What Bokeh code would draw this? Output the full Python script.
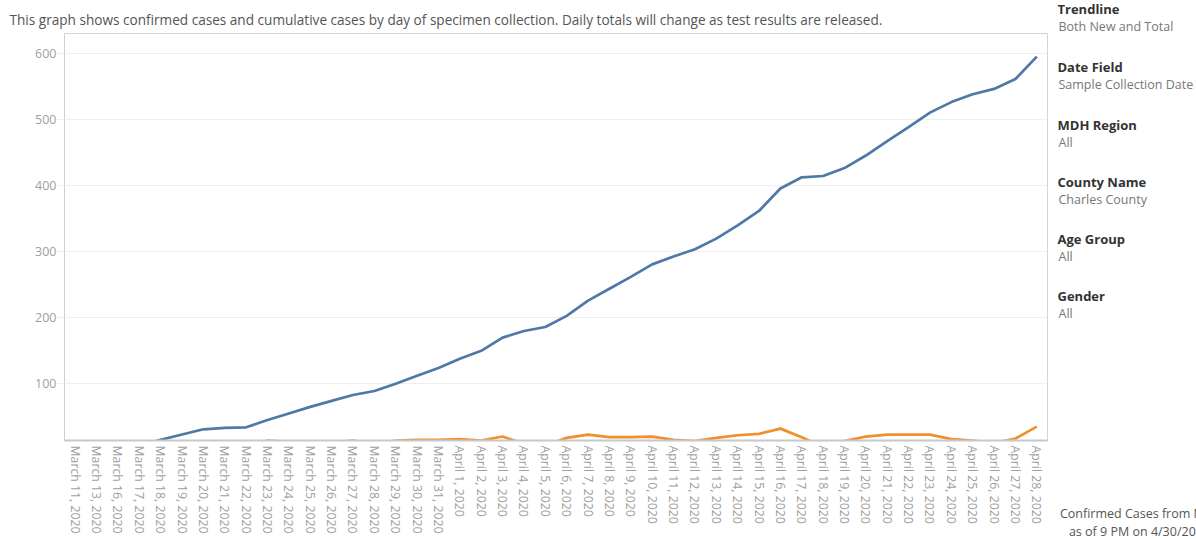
from bokeh.plotting import figure
from bokeh.layouts import row, column
from bokeh.models import FactorRange, Range1d
from bokeh.embed import file_html
from bokeh.resources import INLINE
from bokeh.core.properties import value

dates = [
    "March 11, 2020", "March 13, 2020", "March 16, 2020", "March 17, 2020",
    "March 18, 2020", "March 19, 2020", "March 20, 2020", "March 21, 2020",
    "March 22, 2020", "March 23, 2020", "March 24, 2020", "March 25, 2020",
    "March 26, 2020", "March 27, 2020", "March 28, 2020", "March 29, 2020",
    "March 30, 2020", "March 31, 2020",
    "April 1, 2020", "April 2, 2020", "April 3, 2020", "April 4, 2020",
    "April 5, 2020", "April 6, 2020", "April 7, 2020", "April 8, 2020",
    "April 9, 2020", "April 10, 2020", "April 11, 2020", "April 12, 2020",
    "April 13, 2020", "April 14, 2020", "April 15, 2020", "April 16, 2020",
    "April 17, 2020", "April 18, 2020", "April 19, 2020", "April 20, 2020",
    "April 21, 2020", "April 22, 2020", "April 23, 2020", "April 24, 2020",
    "April 25, 2020", "April 26, 2020", "April 27, 2020", "April 28, 2020",
]

total_cases = [
    1, 2, 3, 6, 15, 23, 31, 33, 34, 45, 55, 65, 74, 83, 89, 100, 112, 124,
    138, 150, 170, 180, 186, 203, 226, 244, 262, 281, 293, 304, 320, 340,
    362, 396, 413, 415, 427, 446, 468, 489, 511, 527, 539, 547, 562, 596,
]

new_cases = [
    1, 1, 1, 3, 9, 8, 12, 2, 1, 14, 12, 10, 11, 14, 8, 14, 15, 15,
    16, 14, 20, 9, 6, 18, 23, 19, 19, 20, 15, 13, 18, 22,
    24, 32, 19, 4, 13, 20, 23, 23, 23, 16, 14, 10, 17, 35,
]

y_ticks = [100, 200, 300, 400, 500, 600]

title_text = ("This graph shows confirmed cases and cumulative cases by day of specimen "
              "collection. Daily totals will change as test results are released.")

filter_heads = ["Trendline", "Date Field", "MDH Region", "County Name", "Age Group", "Gender"]
filter_values = ["Both New and Total", "Sample Collection Date", "All", "Charles County", "All", "All"]

footer = ["Confirmed Cases from MDH", "as of 9 PM on 4/30/2020"]

FONT = "Open Sans"
MAIN_W = 1050
SIDE_W = 1196 - MAIN_W
TOTAL_H = 539
Y0, Y1 = 14, 631

# ---- main chart ----
p = figure(
    width=MAIN_W, height=TOTAL_H, output_backend="svg", toolbar_location=None,
    x_range=FactorRange(factors=dates), y_range=Range1d(Y0, Y1),
    min_border_left=64, min_border_right=3, min_border_top=33, min_border_bottom=99,
    background_fill_color="white", border_fill_color="white",
)
p.outline_line_color = "#d4d4d4"

p.title.text = title_text
p.title.align = "left"
p.title.offset = -55
p.title.text_font = FONT
p.title.text_font_size = "13.6px"
p.title.text_font_style = "normal"
p.title.text_color = "#555555"
p.title.standoff = 10

p.line(dates, total_cases, line_color="#4e79a7", line_width=2.7)
p.line(dates, new_cases, line_color="#f28e2b", line_width=2.7)

p.xgrid.grid_line_color = None
p.ygrid.grid_line_color = "#efefef"
p.ygrid.ticker = y_ticks

p.yaxis.ticker = y_ticks
p.yaxis.axis_line_color = "#cfcfcf"
p.yaxis.major_tick_line_color = "#eeeeee"
p.yaxis.major_tick_out = 7
p.yaxis.major_tick_in = 0
p.yaxis.minor_tick_line_color = None
p.yaxis.major_label_text_color = "#a0a0a0"
p.yaxis.major_label_text_font = FONT
p.yaxis.major_label_text_font_size = "12.5px"
p.yaxis.major_label_standoff = 1

p.xaxis.axis_line_color = "#c8c8c8"
p.xaxis.axis_line_width = 2
p.xaxis.major_tick_line_color = None
p.xaxis.major_tick_out = 0
p.xaxis.major_tick_in = 0
p.xaxis.minor_tick_line_color = None
p.xaxis.major_label_orientation = "vertical"
p.xaxis.major_label_text_color = "#a0a0a0"
p.xaxis.major_label_text_font = FONT
p.xaxis.major_label_text_font_size = "12.3px"
p.xaxis.major_label_standoff = 5

# ---- side panel (coordinates in page pixels, offset by MAIN_W) ----
sf = figure(width=SIDE_W, height=TOTAL_H, output_backend="svg", toolbar_location=None,
            x_range=Range1d(MAIN_W, 1196), y_range=Range1d(TOTAL_H, 0),
            min_border=0, border_fill_color="white", background_fill_color="white")
sf.axis.visible = False
sf.grid.visible = False
sf.outline_line_color = None

head_y = [8, 66, 124, 181, 238, 295]
sf.text(x=[1057] * len(filter_heads), y=head_y, text=filter_heads,
        text_font=value(FONT), text_font_size="13px", text_font_style="bold",
        text_color="#333333", text_baseline="middle", text_align="left")
sf.text(x=[1058] * len(filter_values), y=[v + 18 for v in head_y], text=filter_values,
        text_font=value(FONT), text_font_size="12.5px",
        text_color="#777777", text_baseline="middle", text_align="left")
sf.text(x=[1141, 1139], y=[513, 531], text=footer,
        text_font=value(FONT), text_font_size="12.5px",
        text_color="#555555", text_baseline="middle", text_align="center")

layout = row(column(p), sf)

open("out.html", "w").write(file_html(layout, INLINE))
